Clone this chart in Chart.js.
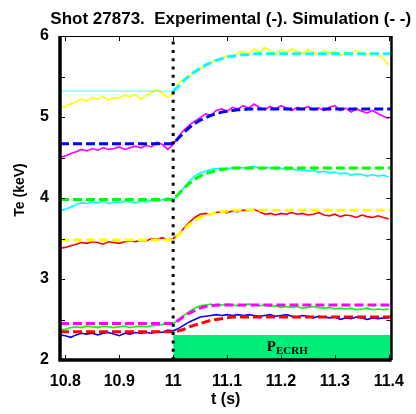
<!DOCTYPE html>
<html>
<head>
<meta charset="utf-8">
<script src="https://cdn.jsdelivr.net/npm/chart.js@4.4.0/dist/chart.umd.min.js"></script>
<style>
  html, body { margin: 0; padding: 0; background: #fff; }
  canvas { display: block; }
</style>
</head>
<body>
<canvas id="te-chart" width="416" height="414"></canvas>
<script>
// time base of the measured traces (s)
const times = [
    10.79, 10.80, 10.81, 10.82, 10.83, 10.84, 10.85, 10.86, 10.87, 10.88, 10.89,
    10.90, 10.91, 10.92, 10.93, 10.94, 10.95, 10.96, 10.97, 10.98, 10.99,
    11.00, 11.01, 11.02, 11.03, 11.04, 11.05, 11.06, 11.07, 11.08, 11.09,
    11.10, 11.11, 11.12, 11.13, 11.14, 11.15, 11.16, 11.17, 11.18, 11.19,
    11.20, 11.21, 11.22, 11.23, 11.24, 11.25, 11.26, 11.27, 11.28, 11.29,
    11.30, 11.31, 11.32, 11.33, 11.34, 11.35, 11.36, 11.37, 11.38, 11.39, 11.40
];

// experimental Te (keV)
const yellowExp = [
    5.12, 5.13, 5.16, 5.19, 5.22, 5.20, 5.24, 5.22, 5.25, 5.21, 5.24,
    5.23, 5.27, 5.25, 5.28, 5.22, 5.27, 5.30, 5.34, 5.29, 5.24,
    5.30, 5.42, 5.47, 5.50, 5.56, 5.60, 5.63, 5.67, 5.70, 5.72,
    5.76, 5.74, 5.79, 5.81, 5.78, 5.84, 5.80, 5.86, 5.82, 5.78,
    5.83, 5.80, 5.84, 5.81, 5.79, 5.83, 5.80, 5.77, 5.82, 5.79,
    5.81, 5.76, 5.80, 5.78, 5.82, 5.79, 5.77, 5.80, 5.76, 5.72, 5.64
];
const magentaExp = [
    4.50, 4.52, 4.55, 4.57, 4.60, 4.58, 4.61, 4.59, 4.62, 4.60, 4.61,
    4.63, 4.60, 4.62, 4.64, 4.62, 4.65, 4.63, 4.69, 4.66, 4.60,
    4.66, 4.76, 4.84, 4.90, 4.95, 4.99, 5.04, 5.02, 5.08, 5.10,
    5.07, 5.12, 5.10, 5.14, 5.11, 5.16, 5.12, 5.09, 5.13, 5.10,
    5.14, 5.11, 5.08, 5.12, 5.10, 5.13, 5.09, 5.11, 5.08, 5.12,
    5.14, 5.08, 5.11, 5.06, 5.10, 5.07, 5.05, 5.08, 5.04, 5.01, 4.98
];
const cyanExp = [
    3.84, 3.86, 3.89, 3.92, 3.94, 3.93, 3.95, 3.94, 3.96, 3.93, 3.95,
    3.94, 3.96, 3.95, 3.94, 3.96, 3.95, 3.97, 3.96, 3.98, 4.00,
    3.98, 4.04, 4.13, 4.21, 4.27, 4.31, 4.33, 4.35, 4.36, 4.37,
    4.36, 4.37, 4.38, 4.37, 4.38, 4.39, 4.37, 4.38, 4.37, 4.36,
    4.37, 4.35, 4.36, 4.34, 4.35, 4.33, 4.34, 4.32, 4.33, 4.31,
    4.32, 4.30, 4.31, 4.28, 4.30, 4.29, 4.27, 4.29, 4.27, 4.28, 4.26
];
const redExp = [
    3.38, 3.39, 3.41, 3.43, 3.45, 3.44, 3.46, 3.45, 3.43, 3.46, 3.45,
    3.44, 3.46, 3.47, 3.46, 3.48, 3.47, 3.50, 3.49, 3.51, 3.48,
    3.50, 3.55, 3.63, 3.70, 3.76, 3.80, 3.81, 3.80, 3.82, 3.83,
    3.82, 3.84, 3.83, 3.85, 3.84, 3.86, 3.83, 3.80, 3.81, 3.79,
    3.81, 3.80, 3.82, 3.80, 3.81, 3.79, 3.80, 3.82, 3.79, 3.78,
    3.80, 3.77, 3.79, 3.78, 3.76, 3.79, 3.77, 3.76, 3.78, 3.76, 3.74
];
const greenExp = [
    2.37, 2.38, 2.40, 2.41, 2.40, 2.42, 2.41, 2.40, 2.42, 2.41, 2.40,
    2.41, 2.42, 2.40, 2.41, 2.42, 2.41, 2.42, 2.43, 2.44, 2.46,
    2.45, 2.50, 2.55, 2.60, 2.64, 2.67, 2.68, 2.69, 2.67, 2.68,
    2.69, 2.68, 2.67, 2.68, 2.69, 2.68, 2.67, 2.68, 2.66, 2.67,
    2.65, 2.66, 2.65, 2.66, 2.64, 2.65, 2.66, 2.65, 2.64, 2.65,
    2.63, 2.64, 2.63, 2.64, 2.62, 2.63, 2.64, 2.62, 2.63, 2.62, 2.63
];
const blueExp = [
    2.31, 2.30, 2.28, 2.31, 2.33, 2.32, 2.33, 2.31, 2.33, 2.34, 2.32,
    2.30, 2.33, 2.32, 2.34, 2.33, 2.34, 2.33, 2.35, 2.34, 2.37,
    2.36, 2.39, 2.43, 2.47, 2.50, 2.53, 2.54, 2.55, 2.56, 2.55,
    2.56, 2.55, 2.56, 2.55, 2.56, 2.55, 2.54, 2.55, 2.56, 2.54,
    2.55, 2.56, 2.54, 2.53, 2.55, 2.54, 2.52, 2.54, 2.53, 2.52,
    2.53, 2.50, 2.52, 2.51, 2.53, 2.52, 2.50, 2.52, 2.51, 2.52, 2.52
];

// simulated Te (keV)
const simTimes = [10.79, 11.00, 11.01, 11.02, 11.03, 11.04, 11.05, 11.06, 11.07,
    11.08, 11.09, 11.10, 11.11, 11.12, 11.13, 11.14, 11.15, 11.405];
const cyanSim = [5.32, 5.32, 5.38, 5.45, 5.51, 5.56, 5.60, 5.64, 5.67, 5.70, 5.72, 5.74, 5.75, 5.76, 5.77, 5.77, 5.78, 5.78];
const blueSim = [4.67, 4.67, 4.74, 4.81, 4.87, 4.92, 4.96, 4.99, 5.02, 5.04, 5.06, 5.07, 5.08, 5.09, 5.09, 5.10, 5.10, 5.10];
const greenSim = [3.98, 3.98, 4.05, 4.12, 4.18, 4.23, 4.27, 4.30, 4.32, 4.34, 4.35, 4.36, 4.37, 4.37, 4.37, 4.37, 4.37, 4.37];
const yellowSim = [3.48, 3.48, 3.54, 3.61, 3.67, 3.72, 3.76, 3.78, 3.80, 3.82, 3.83, 3.84, 3.85, 3.85, 3.85, 3.85, 3.85, 3.85];
const magentaSim = [2.45, 2.45, 2.49, 2.54, 2.58, 2.61, 2.64, 2.66, 2.67, 2.68, 2.68, 2.68, 2.68, 2.68, 2.68, 2.68, 2.68, 2.68];
const redSim = [2.35, 2.35, 2.36, 2.38, 2.41, 2.43, 2.45, 2.47, 2.49, 2.50, 2.51, 2.52, 2.53, 2.53, 2.53, 2.53, 2.53, 2.53];

const xTicks = [10.8, 10.9, 11.0, 11.1, 11.2, 11.3, 11.4];
const yTicks = [2, 3, 4, 5, 6];
const yTickMarks = [2, 2.5, 3, 3.5, 4, 4.5, 5, 5.5, 6];

// ECRH switch-on
const ecrhStart = 11.0;
const ecrhEnd = 11.405;
const ecrhLevel = 2.31;

const FONT = "'Liberation Sans', Arial, sans-serif";
const SERIF = "'Liberation Serif', 'Times New Roman', serif";

function toPoints(xs, ys) {
    return xs.map((x, i) => ({ x: x, y: ys[i] }));
}

function expLine(values, color) {
    return {
        data: toPoints(times, values),
        borderColor: color,
        borderWidth: 1.6,
        pointRadius: 0,
        fill: false,
        order: 2,
    };
}

function simLine(values, color) {
    return {
        data: toPoints(simTimes, values),
        borderColor: color,
        borderWidth: 3,
        borderDash: [9, 4],
        borderCapStyle: 'butt',
        pointRadius: 0,
        fill: false,
        order: 1,
    };
}

const cyanSimLine = simLine(cyanSim, '#00ffff');
// before switch-on this one shows as a thin faint line
cyanSimLine.segment = {
    borderWidth: ctx => ctx.p1.parsed.x <= ecrhStart ? 1 : 3,
    borderDash: ctx => ctx.p1.parsed.x <= ecrhStart ? [] : [9, 4],
    borderColor: ctx => ctx.p1.parsed.x <= ecrhStart ? 'rgba(0,230,255,0.6)' : '#00ffff',
};

const framePlugin = {
    id: 'frame',
    afterDatasetsDraw(chart) {
        const { ctx, chartArea: a, scales: { x, y } } = chart;
        ctx.save();
        ctx.strokeStyle = '#000';
        ctx.lineWidth = 1;
        ctx.beginPath();
        xTicks.forEach(v => {
            const px = Math.round(x.getPixelForValue(v)) + 0.5;
            ctx.moveTo(px, a.bottom); ctx.lineTo(px, a.bottom - 5);
            ctx.moveTo(px, a.top); ctx.lineTo(px, a.top + 5);
        });
        yTickMarks.forEach(v => {
            const py = Math.round(y.getPixelForValue(v)) + 0.5;
            ctx.moveTo(a.left, py); ctx.lineTo(a.left + 5, py);
            ctx.moveTo(a.right, py); ctx.lineTo(a.right - 5, py);
        });
        ctx.moveTo(a.left, a.top + 0.5); ctx.lineTo(a.right, a.top + 0.5);
        ctx.stroke();

        ctx.lineWidth = 3.5;
        ctx.beginPath();
        ctx.moveTo(a.left, a.top); ctx.lineTo(a.left, a.bottom);
        ctx.lineTo(a.right, a.bottom);
        ctx.stroke();
        ctx.lineWidth = 2.5;
        ctx.beginPath();
        ctx.moveTo(a.right, a.top); ctx.lineTo(a.right, a.bottom);
        ctx.stroke();

        ctx.fillStyle = '#000';

        // plot title, centred over the axes
        ctx.textAlign = 'center';
        ctx.textBaseline = 'middle';
        ctx.font = 'bold 17px ' + FONT;
        ctx.fillText('Shot 27873.  Experimental (-). Simulation (- -)', (a.left + a.right) / 2 + 5, 19);

        // y axis title
        ctx.save();
        ctx.translate(20, (a.top + a.bottom) / 2 - 8);
        ctx.rotate(-Math.PI / 2);
        ctx.font = 'bold 14px ' + FONT;
        ctx.fillText('Te (keV)', 0, 0);
        ctx.restore();

        // P_ECRH label inside the green bar
        ctx.textAlign = 'left';
        ctx.textBaseline = 'alphabetic';
        const cx = (x.getPixelForValue(ecrhStart) + x.getPixelForValue(ecrhEnd)) / 2 + 5;
        const base = y.getPixelForValue(2) - 7;
        ctx.font = 'bold 15px ' + SERIF;
        const wP = ctx.measureText('P').width;
        ctx.font = 'bold 11px ' + SERIF;
        const wSub = ctx.measureText('ECRH').width;
        const left = cx - (wP + wSub) / 2;
        ctx.font = 'bold 15px ' + SERIF;
        ctx.fillText('P', left, base - 2);
        ctx.font = 'bold 11px ' + SERIF;
        ctx.fillText('ECRH', left + wP, base + 1);
        ctx.restore();
    }
};

new Chart(document.getElementById('te-chart'), {
    type: 'line',
    data: {
        datasets: [
            {
                // ECRH window
                data: [{ x: ecrhStart, y: ecrhLevel }, { x: ecrhEnd, y: ecrhLevel }],
                borderWidth: 0,
                pointRadius: 0,
                backgroundColor: 'rgb(0,238,120)',
                fill: { value: 2 },
                order: 4,
            },
            {
                // switch-on time
                data: [{ x: ecrhStart, y: 2 }, { x: ecrhStart, y: 6 }],
                borderColor: '#000',
                borderWidth: 3,
                borderDash: [3, 5.3],
                borderCapStyle: 'butt',
                pointRadius: 0,
                fill: false,
                order: 0,
            },
            cyanSimLine,
            simLine(blueSim, '#0000ff'),
            simLine(greenSim, '#00ff00'),
            simLine(yellowSim, '#ffff00'),
            simLine(magentaSim, '#ff00ff'),
            simLine(redSim, '#ff0000'),
            expLine(yellowExp, '#ffff00'),
            expLine(magentaExp, '#ff00ff'),
            expLine(cyanExp, '#00ffff'),
            expLine(redExp, '#ff0000'),
            expLine(greenExp, '#00ff00'),
            expLine(blueExp, '#0000ff'),
        ]
    },
    options: {
        responsive: false,
        animation: false,
        layout: { padding: { left: 0, right: 11, top: 36, bottom: 0 }, autoPadding: false },
        plugins: {
            legend: { display: false },
            tooltip: { enabled: false },
            title: { display: false },
        },
        scales: {
            x: {
                type: 'linear',
                min: 10.79,
                max: 11.405,
                afterBuildTicks: scale => { scale.ticks = xTicks.map(v => ({ value: v })); },
                afterFit: scale => { scale.height = 54; },
                grid: { display: false, drawTicks: false },
                border: { display: false },
                ticks: {
                    color: '#000',
                    padding: 12,
                    maxRotation: 0,
                    font: { family: FONT, size: 16, weight: 'bold' },
                    callback: v => String(Math.round(v * 10) / 10),
                },
                title: {
                    display: true,
                    text: 't (s)',
                    color: '#000',
                    font: { family: FONT, size: 16, weight: 'bold' },
                    padding: { top: 0, bottom: 4.4 },
                },
            },
            y: {
                min: 2,
                max: 6,
                afterBuildTicks: scale => { scale.ticks = yTicks.map(v => ({ value: v })); },
                afterFit: scale => { scale.width = 60; },
                grid: { display: false, drawTicks: false },
                border: { display: false },
                ticks: {
                    color: '#000',
                    padding: 11,
                    font: { family: FONT, size: 16, weight: 'bold' },
                },
                title: { display: false },
            },
        },
    },
    plugins: [framePlugin],
});
</script>
</body>
</html>
